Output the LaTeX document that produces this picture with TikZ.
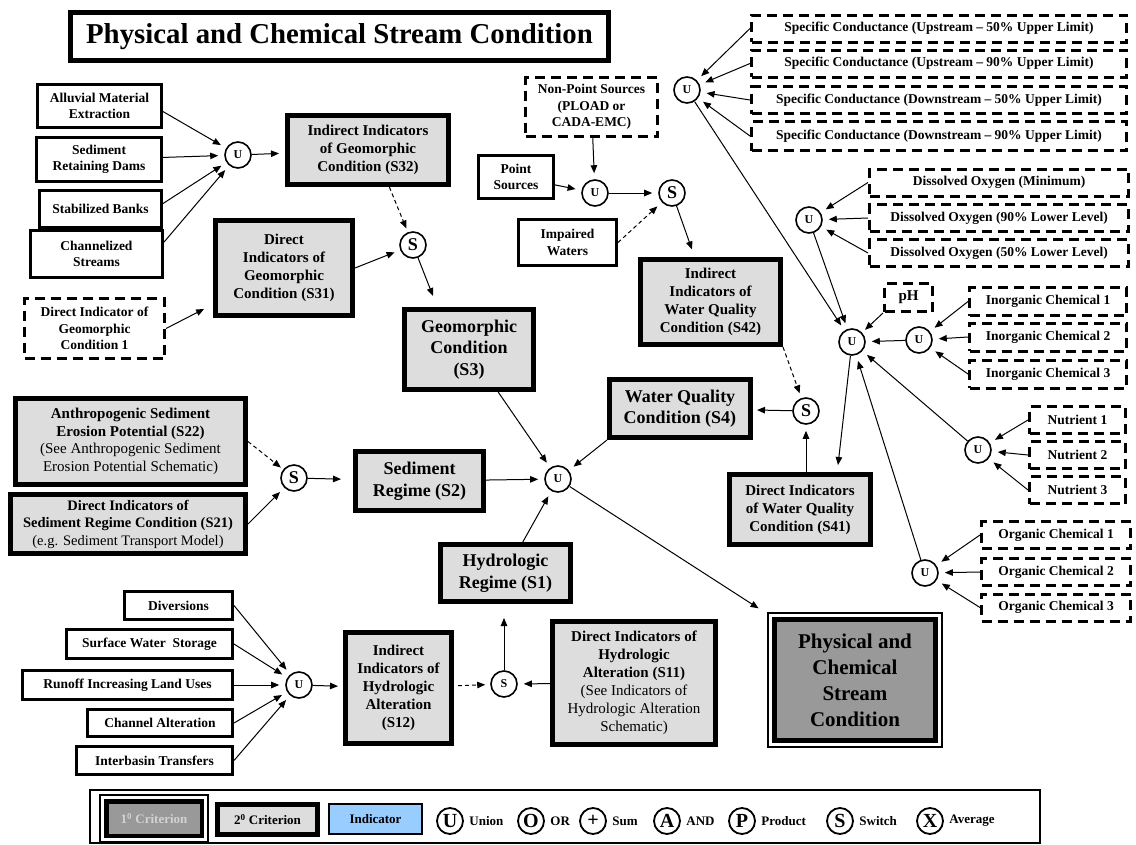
\documentclass[tikz,border=0pt]{standalone}
\usepackage{fontspec}
\setmainfont{Liberation Serif}
\usetikzlibrary{arrows.meta}

\definecolor{critgray}{HTML}{DDDDDD}
\definecolor{primgray}{HTML}{999999}
\definecolor{indblue}{HTML}{99CCFF}

\newcommand{\boxfont}{\fontsize{13.5}{16.5}\selectfont\bfseries}
\newcommand{\critfont}{\fontsize{15}{18}\selectfont\bfseries}
\newcommand{\bigcritfont}{\fontsize{18}{21.5}\selectfont\bfseries}
\newcommand{\primfont}{\fontsize{21}{26}\selectfont\bfseries}
\newcommand{\titlefont}{\fontsize{28.8}{32}\selectfont\bfseries}
\newcommand{\opfont}{\fontsize{12}{12}\selectfont\bfseries}
\newcommand{\swfont}{\fontsize{18}{18}\selectfont\bfseries}
\newcommand{\legfont}{\fontsize{13}{15}\selectfont\bfseries}
\newcommand{\legopfont}{\fontsize{20}{20}\selectfont\bfseries}

\tikzset{
  indbox/.style={draw, line width=3pt, fill=white, align=center, inner sep=1pt, font=\boxfont},
  dashbox/.style={indbox, dash pattern=on 10pt off 6pt},
  critbox/.style={draw, line width=5pt, fill=critgray, align=center, inner sep=1pt, font=\critfont},
  bigcrit/.style={critbox, font=\bigcritfont},
  opnode/.style={draw, circle, line width=1.6pt, minimum size=26pt, inner sep=0pt, fill=white, font=\opfont},
  swnode/.style={opnode, font=\swfont},
  legop/.style={opnode, line width=1.8pt, font=\legopfont},
  legtxt/.style={anchor=west, inner sep=0pt, font=\legfont},
  boxsize/.style 2 args={minimum width=#1pt, minimum height=#2pt},
  tocirc/.style={->, shorten >=6pt},
  dcon/.style={->, dash pattern=on 4pt off 3pt},
}

\begin{document}
\begin{tikzpicture}[x=1pt, y=-1pt, line width=1pt, >={Triangle[length=8pt,width=6.5pt]}]
    \path[fill=white, use as bounding box] (0,0) rectangle (1136,844);

    % title
    \node[critbox, fill=white, font=\titlefont, boxsize={538}{48}] (title) at (339.5,36.5) {Physical and Chemical Stream Condition};

    % geomorphic branch
    \node[indbox, boxsize={124}{43}] (alluv) at (99.5,106) {Alluvial Material\\Extraction};
    \node[indbox, boxsize={125}{44}] (sedret) at (99,159.5) {Sediment\\Retaining Dams};
    \node[indbox, boxsize={122}{37}] (stabil) at (100.5,209) {Stabilized Banks};
    \node[indbox, boxsize={132}{47}] (chan) at (96.5,254) {Channelized\\Streams};
    \node[opnode] (u1) at (238,155) {U};
    \node[critbox, boxsize={161}{69}] (s32) at (368,150) {Indirect Indicators\\of Geomorphic\\Condition (S32)};
    \node[critbox, boxsize={137}{95}] (s31) at (284,268) {Direct\\Indicators of\\Geomorphic\\Condition (S31)};
    \node[dashbox, boxsize={140}{60}] (dig1) at (94.5,328.5) {Direct Indicator of\\Geomorphic\\Condition 1};
    \node[swnode] (sg) at (413,245) {S};
    \node[bigcrit, boxsize={129}{80}] (s3) at (469,349.5) {Geomorphic\\Condition\\(S3)};
    \coordinate (s3in) at (433,296);

    % sediment branch
    \node[critbox, boxsize={230}{86}, font=\fontsize{15}{17.5}\selectfont\bfseries] (s22) at (130.5,441.5)
        {Anthropogenic Sediment\\Erosion Potential (S22)\\{\mdseries (See Anthropogenic Sediment}\\{\mdseries Erosion Potential Schematic)}};
    \node[critbox, boxsize={235}{59}, font=\fontsize{14.5}{17.5}\selectfont\bfseries] (s21) at (128,524)
        {Direct Indicators of\\Sediment Regime Condition (S21)\\{\mdseries (e.g. Sediment Transport Model)}};
    \node[swnode] (ss) at (294,478) {S};
    \node[bigcrit, boxsize={128}{59}] (s2) at (419.5,481) {Sediment\\Regime (S2)};

    % centre
    \node[opnode] (uc) at (558,479) {U};
    \node[critbox, line width=5pt, fill=primgray, font=\primfont, boxsize={161}{121}] (prim) at (855,680) {Physical and\\Chemical\\Stream\\Condition};
    \draw[line width=2pt] ([shift={(-4,-4)}]prim.north west) rectangle ([shift={(4,4)}]prim.south east);

    % hydrologic branch
    \node[indbox, boxsize={108}{28}] (div) at (178.5,605.5) {Diversions};
    \node[indbox, boxsize={166}{29}] (sws) at (149.5,644) {Surface Water\ \ Storage};
    \node[indbox, boxsize={210}{29}] (runoff) at (127.5,685) {Runoff Increasing Land Uses};
    \node[indbox, boxsize={145}{27}] (chalt) at (160,723) {Channel Alteration};
    \node[indbox, boxsize={156}{28}] (interb) at (154.5,760.5) {Interbasin Transfers};
    \node[opnode] (uh) at (299,685) {U};
    \node[critbox, boxsize={106}{111}] (s12) at (398.5,688) {Indirect\\Indicators of\\Hydrologic\\Alteration\\(S12)};
    \node[opnode] (sh) at (504,684) {S};
    \node[critbox, boxsize={163}{123}] (s11) at (634,683)
        {Direct Indicators of\\Hydrologic\\Alteration (S11)\\{\mdseries (See Indicators of}\\{\mdseries Hydrologic Alteration}\\{\mdseries Schematic)}};
    \node[bigcrit, boxsize={130}{57}] (s1) at (505.5,573) {Hydrologic\\Regime (S1)};

    % water quality branch
    \node[dashbox, boxsize={132}{59}] (nps) at (591.5,107) {Non-Point Sources\\(PLOAD or\\CADA-EMC)};
    \node[indbox, boxsize={75}{43}] (ps) at (516,177) {Point\\Sources};
    \node[opnode] (ups) at (595,193) {U};
    \node[swnode] (sps) at (672,193) {S};
    \node[indbox, boxsize={98}{46}] (imp) at (567.5,242.5) {Impaired\\Waters};
    \node[critbox, boxsize={140}{85}] (s42) at (710.5,302) {Indirect\\Indicators of\\Water Quality\\Condition (S42)};
    \node[swnode] (swq) at (806,411) {S};
    \node[bigcrit, boxsize={141}{58}] (s4) at (680,408.5) {Water Quality\\Condition (S4)};
    \node[critbox, boxsize={141}{70}] (s41) at (800,509.5) {Direct Indicators\\of Water Quality\\Condition (S41)};
    \coordinate (s41in) at (838,465);

    % water quality indicators
    \node[opnode] (usc) at (687,90) {U};
    \node[dashbox, boxsize={375}{27}] (sc1) at (939,28.5) {Specific Conductance (Upstream -- 50\% Upper Limit)};
    \node[dashbox, boxsize={375}{27}] (sc2) at (939,63.5) {Specific Conductance (Upstream -- 90\% Upper Limit)};
    \node[dashbox, boxsize={375}{27}] (sc3) at (939,100) {Specific Conductance (Downstream -- 50\% Upper Limit)};
    \node[dashbox, boxsize={375}{29}] (sc4) at (939,136) {Specific Conductance (Downstream -- 90\% Upper Limit)};
    \node[opnode] (udo) at (809,220) {U};
    \node[dashbox, boxsize={259}{27}] (do1) at (999,182.5) {Dissolved Oxygen (Minimum)};
    \node[dashbox, boxsize={259}{27}] (do2) at (999,218) {Dissolved Oxygen (90\% Lower Level)};
    \node[dashbox, boxsize={259}{27}] (do3) at (999,253) {Dissolved Oxygen (50\% Lower Level)};
    \node[opnode] (um) at (852,342) {U};
    \node[dashbox, boxsize={48}{28}, font=\fontsize{15}{15}\selectfont\bfseries] (ph) at (908.5,297.5) {pH};
    \node[opnode] (uic) at (919,340) {U};
    \node[dashbox, boxsize={157}{28}] (ic1) at (1048,301.5) {Inorganic Chemical 1};
    \node[dashbox, boxsize={157}{28}] (ic2) at (1048,337) {Inorganic Chemical 2};
    \node[dashbox, boxsize={157}{28}] (ic3) at (1048,374) {Inorganic Chemical 3};
    \node[opnode] (unu) at (978,450) {U};
    \node[dashbox, boxsize={96}{27}] (nu1) at (1077.5,420) {Nutrient 1};
    \node[dashbox, boxsize={96}{27}] (nu2) at (1077.5,455) {Nutrient 2};
    \node[dashbox, boxsize={96}{27}] (nu3) at (1077.5,490) {Nutrient 3};
    \node[opnode] (uoc) at (925,573) {U};
    \node[dashbox, boxsize={149}{27}] (oc1) at (1056,535) {Organic Chemical 1};
    \node[dashbox, boxsize={149}{27}] (oc2) at (1056,572) {Organic Chemical 2};
    \node[dashbox, boxsize={149}{27}] (oc3) at (1056,607.5) {Organic Chemical 3};

    % connectors
    \draw[tocirc] (alluv.-5) -- (u1);
    \draw[tocirc] (sedret) -- (u1);
    \draw[tocirc] (stabil.5) -- (u1);
    \draw[tocirc] (chan.10) -- (u1);
    \draw[->, shorten >=6pt] (u1) -- (s32);
    \draw[dcon, shorten >=4pt] (s32.-60) -- (sg);
    \draw[tocirc] (s31.east) -- (sg);
    \draw[->, shorten >=10pt] (dig1.east) -- (s31);
    \draw[->] (sg) -- (s3in);
    \draw[tocirc] (s3) -- (uc);
    \draw[tocirc] (s2) -- (uc);
    \draw[tocirc] (s4.south west) -- (uc);
    \draw[tocirc] (s1) -- (uc);
    \draw[->, shorten >=16pt] (uc) -- (prim.north west);

    \draw[dcon, shorten >=3pt] (s22.east) -- (ss);
    \draw[tocirc] (s21.east) -- (ss);
    \draw[->, shorten >=12pt] (ss) -- (s2);

    \foreach \b in {div,sws,runoff,chalt,interb}
        \draw[tocirc] (\b.east) -- (uh);
    \draw[->, shorten >=5pt] (uh) -- (s12);
    \draw[dcon, shorten <=4pt, shorten >=5pt] (s12) -- (sh);
    \draw[tocirc] (s11) -- (sh);
    \draw[->, shorten >=14pt] (sh) -- (sh |- s1.south);

    \draw[tocirc] (nps) -- (ups);
    \draw[tocirc] (ps) -- (ups);
    \draw[tocirc] (ups) -- (sps);
    \draw[dcon, shorten >=6pt] (imp.east) -- (sps);
    \draw[->, shorten >=8pt] (sps) -- (s42);
    \draw[dcon, shorten >=5pt] (s42.south east) -- (swq);
    \draw[tocirc] (s41.north -| swq) -- (swq);
    \draw[->, shorten >=4pt] (swq) -- (s4);
    \draw[->] (um) -- (s41in);

    \foreach \i in {1,...,4}
        \draw[tocirc] (sc\i.west) -- (usc);
    \foreach \i in {1,2,3} {
        \draw[tocirc] (do\i.west) -- (udo);
        \draw[tocirc] (ic\i.west) -- (uic);
        \draw[tocirc] (nu\i.west) -- (unu);
        \draw[tocirc] (oc\i.west) -- (uoc);
    }
    \draw[tocirc] (usc) -- (um);
    \draw[tocirc] (udo) -- (um);
    \draw[->, shorten >=4pt] (ph.south west) -- (um);
    \draw[tocirc] (uic) -- (um);
    \draw[tocirc] (unu) -- (um);
    \draw[tocirc] (uoc) -- (um);

    % legend
    \draw[line width=1.5pt] (90,790) rectangle (1040,843);
    \node[critbox, line width=4.5pt, fill=primgray, text=gray!35, font=\legfont, boxsize={95.5}{34.5}] (leg1) at (154,818.5) {1\textsuperscript{0} Criterion};
    \draw[line width=1.5pt] ([shift={(-4,-4)}]leg1.north west) rectangle ([shift={(4,4)}]leg1.south east);
    \node[critbox, font=\legfont, boxsize={100}{30}] (leg2) at (267.5,819.5) {2\textsuperscript{0} Criterion};
    \node[indbox, line width=2pt, fill=indblue, font=\legfont, boxsize={93}{30}] (leg3) at (375.5,819) {Indicator};
    \foreach \n/\c/\x/\t in {lu/U/450/Union, lo/O/531/OR, lsum/+/593/Sum, la/A/667/AND, lp/P/742/Product, ls/S/840/Switch, lx/X/930/Average} {
        \node[legop] (\n) at (\x,821) {\c};
        \node[legtxt] (\n txt) at ([xshift=5pt]\n.east) {\t};
    }
\end{tikzpicture}
\end{document}
